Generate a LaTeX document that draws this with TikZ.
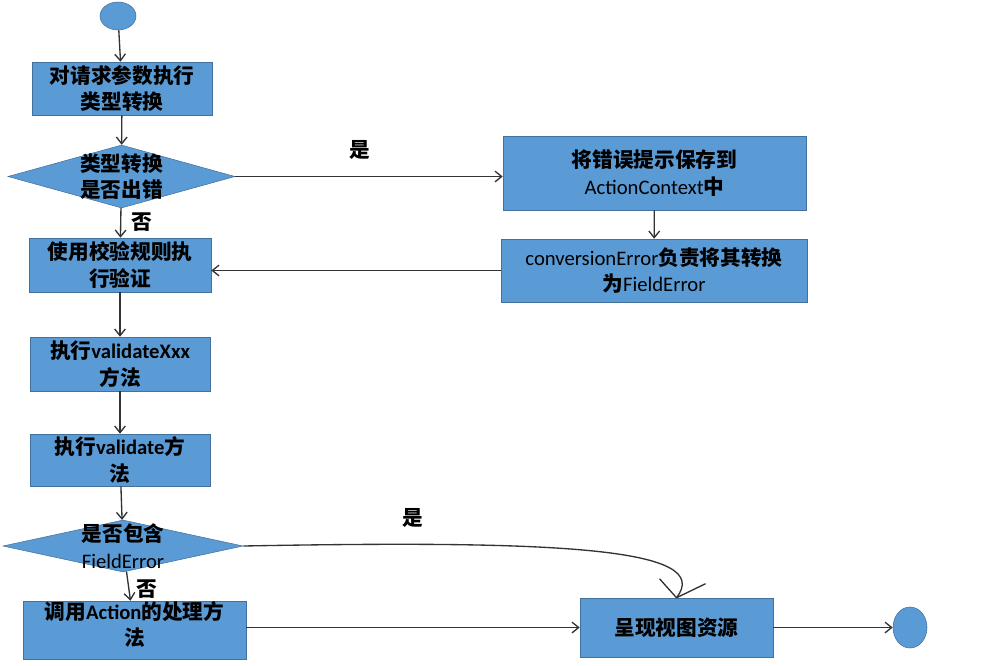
\documentclass[tikz,border=0pt]{standalone}
\usepackage{fontspec}
\setmainfont{Carlito}
\newfontfamily\cjk{Noto Sans CJK SC}
\usetikzlibrary{arrows.meta,
                shapes.geometric,
                positioning}
\definecolor{boxblue}{HTML}{5B9BD5}
\definecolor{boxline}{HTML}{41719C}
\definecolor{linegray}{HTML}{333333}
\newcommand{\zh}[1]{{\cjk\bfseries #1}}
\tikzset{
	%Define standard arrow tip
	>={Straight Barb[length=5pt,width=8pt]},
	%Define style for boxes
	boks/.style={
	       rectangle,
	       draw=boxline,
	       fill=boxblue,
	       inner sep=0pt,
	       align=center,
	       font=\fontsize{15.5}{20}\selectfont},
	ruter/.style={
	       diamond,
	       draw=boxline,
	       fill=boxblue,
	       inner sep=0pt},
	ende/.style={
	       ellipse,
	       draw=boxline,
	       fill=boxblue,
	       inner sep=0pt},
	tekst/.style={
	       align=center,
	       inner sep=0pt,
	       font=\fontsize{15.5}{20}\selectfont},
	% Define arrow style
	pil/.style={
	       ->,
	       draw=linegray,
	       line width=1pt},
	linje/.style={
	       draw=linegray,
	       line width=1pt,
	       line join=round}
}
\begin{document}
\begin{tikzpicture}[x=0.75pt, y=-0.75pt]
		\useasboundingbox (0,0) rectangle (984,665);
		% left column
		\node[ende, minimum width=27pt, minimum height=21pt] (start) at (118,16) {};
		\node[boks, minimum width=135pt, minimum height=39.75pt] (type_conv) at (122,88.5) {\zh{对请求参数执行}\\\zh{类型转换}}
		edge[pil, <-] (start);
		\node[ruter, minimum width=170.25pt, minimum height=47.25pt,
		      label={[tekst]center:\zh{类型转换}\\\zh{是否出错}}] (conv_check) at (121.5,176.5) {}
		edge[pil, <-] (type_conv);
		\node[boks, minimum width=136.5pt, minimum height=40.5pt] (rule_check) at (120,265) {\zh{使用校验规则执}\\\zh{行验证}}
		edge[pil, <-] (conv_check);
		\node[boks, minimum width=135pt, minimum height=40.5pt] (validate_xxx) at (120,364) {\zh{执行}\textbf{validateXxx}\\\zh{方法}}
		edge[pil, <-] (rule_check);
		\node[boks, minimum width=135pt, minimum height=39pt] (validate) at (120,460) {\zh{执行}\textbf{validate}\zh{方}\\\zh{法}}
		edge[pil, <-] (validate_xxx);
		\node[ruter, minimum width=180pt, minimum height=39pt,
		      label={[tekst]center:\zh{是否包含}\\FieldError}] (field_check) at (123,546) {}
		edge[pil, <-] (validate);
		\node[boks, minimum width=167.25pt, minimum height=37.5pt, text depth=10pt] (action) at (134.5,630) {\zh{调用}\textbf{Action}\zh{的处理方}\\\zh{法}};
		% right side
		\node[boks, minimum width=227.25pt, minimum height=55.5pt] (save_err) at (654.5,173) {\zh{将错误提示保存到}\\ActionContext\zh{中}};
		\node[boks, minimum width=229.5pt, minimum height=47.25pt] (conv_err) at (654,270.5) {conversionError\zh{负责将其转换}\\\zh{为}FieldError}
		edge[pil, <-] (save_err);
		\node[boks, minimum width=144.75pt, minimum height=44.25pt] (view) at (676.5,627.5) {\zh{呈现视图资源}};
		\node[ende, minimum width=25.5pt, minimum height=30.75pt] (stop) at (910,627.5) {};
		% labels
		\node[tekst] (yes_a) at (360,150) {\zh{是}};
		\node[tekst] (no_a) at (142,222) {\zh{否}};
		\node[tekst] (yes_b) at (413,518) {\zh{是}};
		\node[tekst] (no_b) at (147,589) {\zh{否}};
		% connectors
		\draw[pil] (conv_check.east) -- (conv_check.east -| save_err.west);
		\draw[pil] (conv_err.west) -- (conv_err.west -| rule_check.east);
		\draw[pil] (field_check) -- (action);
		\draw[pil] (action.east |- view) -- (view.west);
		\draw[pil] (view.east) -- (stop.west);
		% curved connector with wide open tip
		\draw[linje] (field_check.east) .. controls (560,540) and (715,548) .. (view.north);
		\draw[linje] (view.north) ++(-17,-19) -- (view.north) -- ++(29,-14);
	\end{tikzpicture}
\end{document}
